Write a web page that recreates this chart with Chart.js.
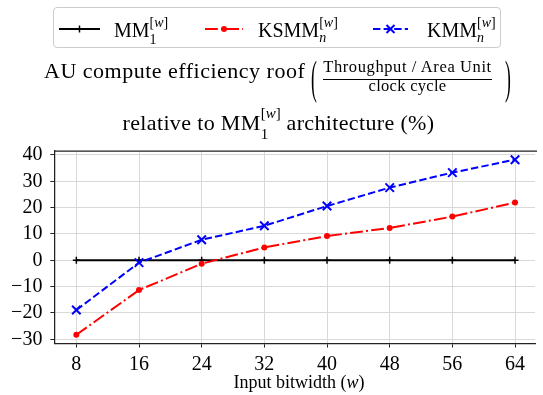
<!DOCTYPE html>
<html><head><meta charset="utf-8">
<script src="https://cdn.jsdelivr.net/npm/chart.js@4/dist/chart.umd.min.js"></script>
<style>
html,body{margin:0;padding:0;background:#fff;}
#wrap{position:relative;width:543px;height:395px;overflow:hidden;font-family:"Liberation Serif","Times New Roman",serif;color:#000;}
#c{position:absolute;left:0;top:0;}
.t{position:absolute;white-space:nowrap;}
.sc{position:relative;line-height:0;letter-spacing:0;}
#legbox{position:absolute;left:52.5px;top:7px;width:448px;height:41px;border:1px solid #cccccc;border-radius:4px;box-sizing:border-box;}
</style></head><body>
<div id="wrap">
<canvas id="c" width="543" height="395"></canvas>
<div id="legbox"></div>
<svg id="legsvg" width="543" height="60" style="position:absolute;left:0;top:0">
  <line x1="59" y1="29" x2="100" y2="29" stroke="#000" stroke-width="2"/>
  <line x1="79.5" y1="25.5" x2="79.5" y2="32.5" stroke="#000" stroke-width="1.5"/>
  <line x1="205" y1="29" x2="243" y2="29" stroke="#f00" stroke-width="2" stroke-dasharray="12.8 3.2 2 3.2"/>
  <circle cx="224" cy="29" r="3" fill="#f00"/>
  <line x1="373" y1="29" x2="408" y2="29" stroke="#00f" stroke-width="2" stroke-dasharray="7.4 3.2"/>
  <line x1="386.5" y1="25" x2="394.5" y2="33" stroke="#00f" stroke-width="2"/>
  <line x1="386.5" y1="33" x2="394.5" y2="25" stroke="#00f" stroke-width="2"/>
</svg>
</div>
<script>
// ---- data ----
const bitwidths = [8, 16, 24, 32, 40, 48, 56, 64];
const mm1Values = [0, 0, 0, 0, 0, 0, 0, 0];
const ksmmValues = [-28.3, -11.3, -1.3, 4.9, 9.2, 12.3, 16.6, 21.9];
const kmmValues = [-18.9, -0.9, 7.8, 13.1, 20.6, 27.6, 33.3, 38.2];
const xTickValues = [8, 16, 24, 32, 40, 48, 56, 64];
const yTickValues = [-30, -20, -10, 0, 10, 20, 30, 40];

// ---- text overlays ----
const wrap = document.getElementById('wrap');
function txt(html, x, base, size, align, spacing) {
  const s = document.createElement('span');
  s.className = 't';
  s.innerHTML = html;
  s.style.fontSize = size + 'px';
  s.style.lineHeight = size + 'px';
  s.style.top = (base - 0.8375 * size) + 'px';
  s.style.left = x + 'px';
  if (spacing) s.style.letterSpacing = spacing + 'px';
  if (align === 'center') s.style.transform = 'translateX(-50%)';
  wrap.appendChild(s);
  return s;
}
function mmScripts(sub, subItalic, size, supUp, subDown) {
  const w = size * 0.5;
  const subHtml = subItalic ? '<i>' + sub + '</i>' : sub;
  return '<span class="sc" style="font-size:' + size + 'px;top:' + subDown + 'px">' + subHtml + '</span>' +
         '<span class="sc" style="font-size:' + size + 'px;top:' + (-supUp) + 'px;margin-left:-' + w + 'px">[<i>w</i>]</span>';
}
// legend labels
txt('MM' + mmScripts('1', false, 14, 10, 7), 114, 36.5, 20);
txt('KSMM' + mmScripts('n', true, 14, 10, 5), 258, 36.5, 20);
txt('KMM' + mmScripts('n', true, 14, 10, 5), 427, 36.5, 20);

// title line 1
txt('AU compute efficiency roof', 44, 78.3, 22, null, 0.5);
function paren(ch, x) {
  const s = txt(ch, x, 87, 22);
  s.style.transformOrigin = '0 12.7px';
  s.style.transform = 'scale(0.8, 2.15)';
  return s;
}
paren('(', 311);
paren(')', 505);
txt('Throughput / Area Unit', 407.5, 73, 16.5, 'center', 0.6);
const bar = document.createElement('div');
bar.style.cssText = 'position:absolute;left:323px;top:78.5px;width:169px;height:1px;background:#000;';
wrap.appendChild(bar);
txt('clock cycle', 407.5, 92, 16.5, 'center', 0.3);
// title line 2
txt('relative to MM' + mmScripts('1', false, 15, 12, 9) + ' architecture (%)', 278.5, 130.7, 22, 'center', 0.35);
// x axis title
txt('Input bitwidth (<i>w</i>)', 299, 388.5, 18, 'center');

// ---- chart ----
const toPts = arr => bitwidths.map((x, i) => ({x: x, y: arr[i]}));
const framePlugin = {
  id: 'frame',
  afterDraw(chart) {
    const {ctx, chartArea} = chart;
    ctx.save();
    ctx.strokeStyle = '#222';
    ctx.lineWidth = 1.25;
    ctx.beginPath();
    ctx.moveTo(chartArea.left, chartArea.top);
    ctx.lineTo(chartArea.right + 2, chartArea.top);
    ctx.stroke();
    ctx.restore();
  }
};
const serif = 'Liberation Serif';
new Chart(document.getElementById('c'), {
  type: 'line',
  data: {
    datasets: [
      {label: 'MM1', data: toPts(mm1Values), borderColor: '#000', backgroundColor: '#000', borderWidth: 2,
       pointStyle: 'cross', pointRadius: 3.5, pointBorderWidth: 1.5, tension: 0, order: 3},
      {label: 'KSMMn', data: toPts(ksmmValues), borderColor: '#ff0000', backgroundColor: '#ff0000', borderWidth: 2,
       borderDash: [12.8, 3.2, 2, 3.2], pointStyle: 'circle', pointRadius: 3, pointBorderWidth: 0, tension: 0, order: 2},
      {label: 'KMMn', data: toPts(kmmValues), borderColor: '#0000ff', backgroundColor: '#0000ff', borderWidth: 2,
       borderDash: [7.4, 3.2], pointStyle: 'crossRot', pointRadius: 6, pointBorderWidth: 2, tension: 0, order: 1}
    ]
  },
  options: {
    responsive: false, animation: false, devicePixelRatio: 1, events: [],
    layout: {padding: {left: 0, right: 0, top: 151, bottom: 0}},
    plugins: {legend: {display: false}, title: {display: false}, tooltip: {enabled: false}},
    scales: {
      x: {
        type: 'linear', min: 5.2, max: 66.55,
        afterBuildTicks: s => { s.ticks = xTickValues.map(v => ({value: v})); },
        afterFit: s => { s.height = 51.5; },
        grid: {color: '#d9d9d9', lineWidth: 1, tickLength: 4, tickColor: '#222', drawTicks: true},
        border: {color: '#222', width: 1.25},
        ticks: {font: {family: serif, size: 20}, color: '#000', padding: 5, maxRotation: 0, autoSkip: false}
      },
      y: {
        type: 'linear', min: -31.6, max: 41.5,
        afterBuildTicks: s => { s.ticks = yTickValues.map(v => ({value: v})); },
        afterFit: s => { s.width = 54.4; },
        grid: {color: '#d9d9d9', lineWidth: 1, tickLength: 4, tickColor: '#222', drawTicks: true},
        border: {color: '#222', width: 1.25},
        ticks: {font: {family: serif, size: 20}, color: '#000', padding: 8,
                callback: v => String(v).replace('-', '\u2212')}
      }
    }
  },
  plugins: [framePlugin]
});
</script>
</body></html>
